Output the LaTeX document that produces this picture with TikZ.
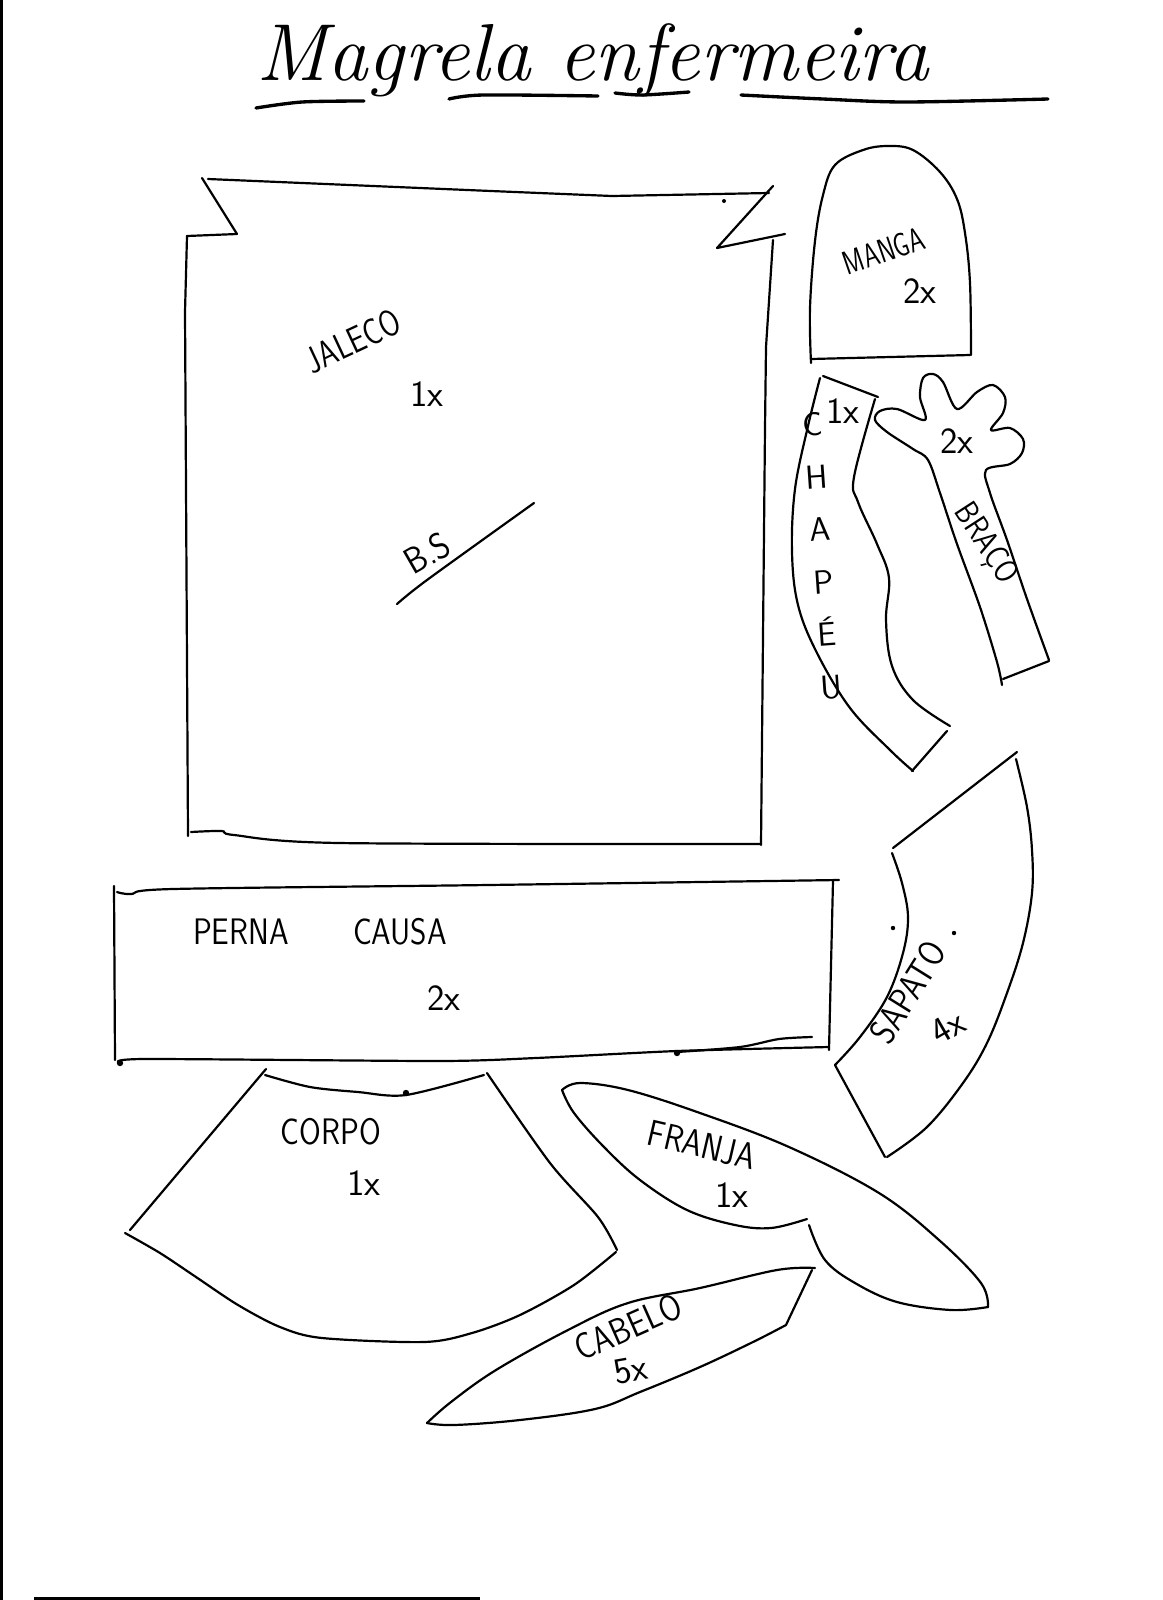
\documentclass[tikz,border=0pt]{standalone}
\tikzset{
	outline/.style={line width=1.25pt,line cap=round,line join=round},
	underline/.style={line width=1.9pt,line cap=round},
	handtext/.style={font=\sffamily\fontsize{21}{21}\selectfont,inner sep=0pt},
	blob/.style={radius=3.2}
}
\begin{document}
\begin{tikzpicture}[x=0.02cm,y=-0.02cm]

	\useasboundingbox (0,0) rectangle (1163,1600);

	\fill (0,0) rectangle (3,1600);
	\fill (34,1597) rectangle (480,1600);

	\node[anchor=base west,inner sep=0pt,font=\itshape\fontsize{46}{46}\selectfont] (title) at (256,80) {Magrela enfermeira};
	\draw[underline] plot[smooth] coordinates {(256,108) (302,102) (364,101)};
	\draw[underline] plot[smooth] coordinates {(449,99) (483,95) (598,96)};
	\draw[underline] plot[smooth] coordinates {(615,93) (642,95) (689,92)};
	\draw[underline] plot[smooth] coordinates {(741,95) (823,99) (906,102) (1048,99)};

	\draw[outline] (202,178) -- (237,234) -- (187,236);
	\draw[outline] (208,179) -- (491,191) -- (612,196) -- (769,193);
	\draw[outline] (773,186) -- (717,248) -- (785,234);
	\draw[outline] (187,236) -- (185,312) -- (188,836);
	\draw[outline] plot[smooth,tension=.5] coordinates {(191,832) (222,831) (234,835) (339,843) (760,844)};
	\draw[outline] (761,845) -- (765,428) -- (766,347) -- (773,240);
	\fill (724,201) circle[radius=2];
	\node[handtext,rotate=25,xscale=.8] (jaleco) at (353,341) {JALECO};
	\node[handtext] (jalecoqty) at (427,394) {1x};
	\node[handtext,rotate=30,xscale=.9] (bs) at (427,553) {B.S};
	\draw[outline] plot[smooth,tension=.5] coordinates {(397,604) (427,580) (534,503)};

	\draw[outline] (114,886) -- (115,1060);
	\draw[outline] plot[smooth,tension=.5] coordinates {(117,892) (131,894) (173,889) (488,885) (839,880)};
	\draw[outline] (833,881) -- (829,1050);
	\draw[outline] plot[smooth,tension=.4] coordinates {(829,1047) (677,1051) (536,1058) (439,1061) (144,1059) (119,1063)};
	\draw[outline] plot[smooth,tension=.5] coordinates {(677,1052) (740,1047) (779,1039) (812,1037)};
	\fill (677,1053) circle[blob];
	\fill (120,1063) circle[blob];
	\node[handtext,xscale=.85] (perna) at (241,932) {PERNA};
	\node[handtext,xscale=.85] (causa) at (400,932) {CAUSA};
	\node[handtext] (pernaqty) at (444,998) {2x};

	\draw[outline] plot[smooth,tension=.6] coordinates {(811,363) (810,308) (815,241) (823,195) (835,165) (863,150) (888,146) (913,150) (940,172) (957,199) (965,233) (970,283) (971,355)};
	\draw[outline] (811,359) -- (970,355);
	\node[handtext,rotate=19,xscale=.75,font=\sffamily\fontsize{19}{19}\selectfont] (manga) at (884,251) {MANGA};
	\node[handtext] (mangaqty) at (920,291) {2x};

	\draw[outline] (823,376) -- (878,397);
	\draw[outline] plot[smooth,tension=.6] coordinates {(820,378) (808,426) (795,489) (792,552) (798,605) (817,653) (850,708) (890,750) (913,771)};
	\draw[outline] (912,771) -- (947,731);
	\draw[outline] plot[smooth,tension=.6] coordinates {(875,399) (854,477) (858,502) (877,544) (889,578) (886,620) (892,666) (913,700) (950,726)};
	\node[handtext] (chapeuqty) at (843,411) {1x};
	\node[handtext,align=center,rotate=4,font=\sffamily\fontsize{19}{30}\selectfont] (chapeu) at (822,556) {C\\H\\A\\P\\É\\U};

	\draw[outline] plot[smooth,tension=.55] coordinates {(1002,685) (997,662) (980,607) (957,544) (940,493) (928,460) (913,449) (887,432) (875,420) (880,411) (897,409) (925,420) (920,397) (923,378) (933,374) (943,382) (957,409) (977,392) (993,385) (1005,397) (1003,413) (991,430) (1010,428) (1023,439) (1022,453) (1010,464) (986,470) (990,493) (1007,540) (1027,599) (1049,660)};
	\draw[outline] (1049,661) -- (1003,679);
	\node[handtext] (bracoqty) at (957,441) {2x};
	\node[handtext,rotate=-57,xscale=.85,font=\sffamily\fontsize{19}{19}\selectfont] (braco) at (985,544) {BRAÇO};

	\draw[outline] (893,848) -- (1017,752);
	\draw[outline] plot[smooth,tension=.6] coordinates {(1016,759) (1027,807) (1032,850) (1032,893) (1023,943) (1007,993) (987,1043) (963,1083) (927,1127) (887,1157)};
	\draw[outline] (885,1157) -- (835,1065);
	\draw[outline] plot[smooth,tension=.6] coordinates {(835,1065) (860,1037) (887,997) (903,953) (908,917) (902,883) (892,853)};
	\fill (893,928) circle[radius=2.2];
	\fill (954,933) circle[radius=2.2];
	\node[handtext,rotate=58,xscale=.85] (sapato) at (908,992) {SAPATO};
	\node[handtext,rotate=30] (sapatoqty) at (948,1027) {4x};

	\draw[outline] plot[smooth,tension=.5] coordinates {(265,1075) (310,1087) (358,1092) (406,1095) (484,1075)};
	\draw[outline] (266,1069) -- (130,1230);
	\draw[outline] plot[smooth,tension=.5] coordinates {(487,1073) (550,1163) (598,1217) (617,1250)};
	\draw[outline] plot[smooth,tension=.5] coordinates {(125,1233) (160,1253) (196,1277) (238,1305) (280,1327) (322,1338) (424,1342) (472,1333) (520,1315) (574,1285) (616,1252)};
	\fill (406,1093) circle[blob];
	\node[handtext,xscale=.85] (corpo) at (331,1132) {CORPO};
	\node[handtext] (corpoqty) at (364,1183) {1x};

	\draw[outline] plot[smooth,tension=.6] coordinates {(562,1090) (580,1083) (628,1090) (700,1113) (789,1147) (879,1193) (939,1240) (981,1283) (988,1307)};
	\draw[outline] plot[smooth,tension=.6] coordinates {(988,1307) (951,1310) (897,1302) (855,1283) (825,1260) (809,1225)};
	\draw[outline] plot[smooth,tension=.6] coordinates {(807,1219) (771,1228) (735,1225) (687,1210) (640,1180) (604,1147) (574,1113) (562,1090)};
	\node[handtext,rotate=-13,xscale=.85] (franja) at (702,1145) {FRANJA};
	\node[handtext] (franjaqty) at (732,1195) {1x};

	\draw[outline] plot[smooth,tension=.6] coordinates {(427,1423) (451,1402) (496,1370) (568,1330) (628,1303) (700,1288) (777,1270) (815,1268)};
	\draw[outline] (812,1270) -- (786,1325);
	\draw[outline] plot[smooth,tension=.6] coordinates {(786,1325) (753,1342) (700,1367) (640,1392) (595,1409) (520,1420) (454,1425) (427,1423)};
	\node[handtext,rotate=24,xscale=.85] (cabelo) at (628,1327) {CABELO};
	\node[handtext,rotate=10] (cabeloqty) at (631,1370) {5x};

\end{tikzpicture}
\end{document}
